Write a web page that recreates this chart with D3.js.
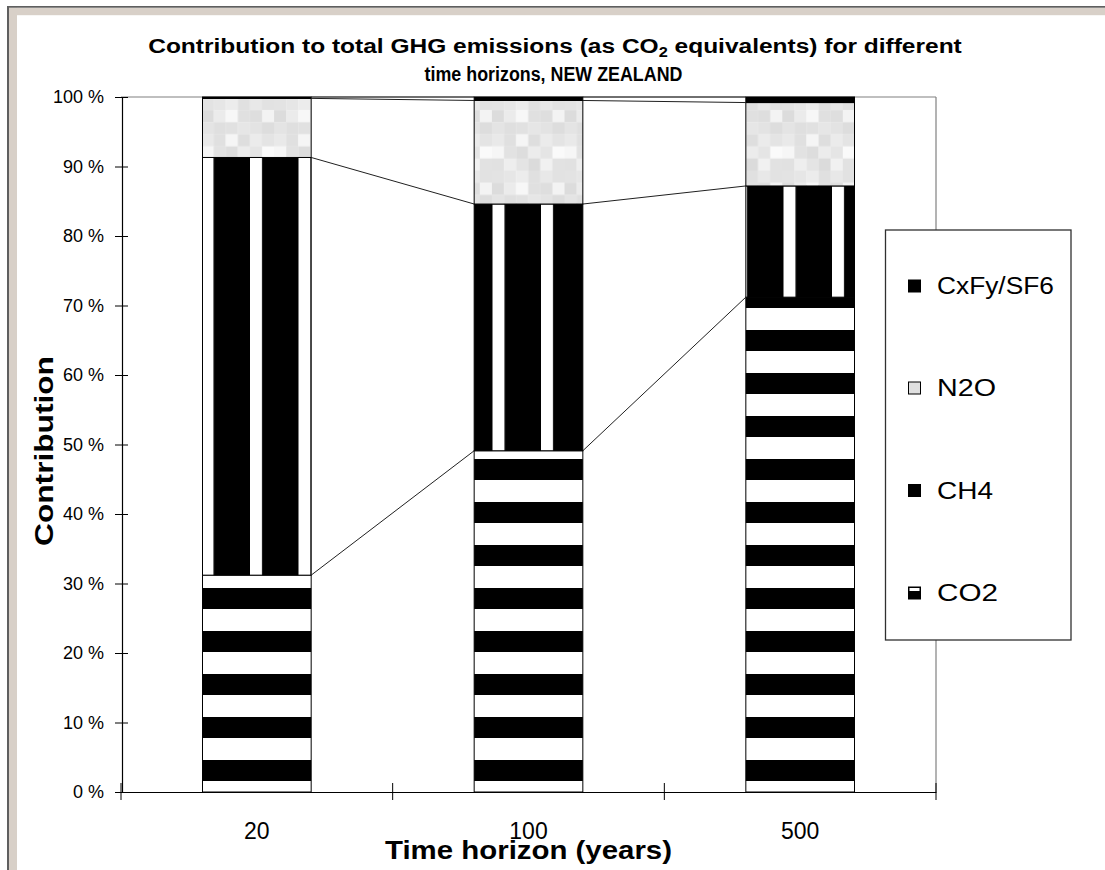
<!DOCTYPE html>
<html>
<head>
<meta charset="utf-8">
<script src="https://cdn.jsdelivr.net/npm/d3@7"></script>
<style>
  html, body { margin: 0; padding: 0; background: #ffffff; }
  svg { display: block; font-family: "Liberation Sans", Arial, sans-serif; }
</style>
</head>
<body>
<svg id="chart" width="1105" height="870"></svg>
<script>
// Share of total GHG emissions (CO2 equivalents), percent, per time horizon
const categories = ["20", "100", "500"];
const seriesKeys = ["CO2", "CH4", "N2O", "CxFy/SF6"];
const co2Values  = [31.2, 49.1, 71.2];
const ch4Values  = [60.1, 35.5, 16.0];
const n2oValues  = [8.5, 14.9, 12.0];
const cxfyValues = [0.2, 0.5, 0.8];
const yTickValues = [0, 10, 20, 30, 40, 50, 60, 70, 80, 90, 100];

const rows = categories.map((c, i) => ({
  horizon: c,
  "CO2": co2Values[i],
  "CH4": ch4Values[i],
  "N2O": n2oValues[i],
  "CxFy/SF6": cxfyValues[i]
}));

const svg = d3.select("#chart");
const plot = { left: 121, right: 936, top: 97, bottom: 792 };

// window frame (left and top edges)
svg.append("rect").attr("x", 9).attr("y", 7.7).attr("width", 1096).attr("height", 7.5).attr("fill", "#d8d0c8");
svg.append("rect").attr("x", 9).attr("y", 7.7).attr("width", 8).attr("height", 870).attr("fill", "#d8d0c8");
svg.append("rect").attr("x", 7).attr("y", 6).attr("width", 1098).attr("height", 1.7).attr("fill", "#5f5f5f");
svg.append("rect").attr("x", 7).attr("y", 6).attr("width", 2).attr("height", 864).attr("fill", "#5f5f5f");

const x = d3.scaleBand().domain(categories).range([plot.left, plot.right])
  .paddingInner(0.6).paddingOuter(0.3);
const y = d3.scaleLinear().domain([0, 100]).range([plot.bottom, plot.top]);

// fill patterns
const defs = svg.append("defs");
const pCO2 = defs.append("pattern").attr("id", "pat-co2")
  .attr("patternUnits", "userSpaceOnUse").attr("x", 0).attr("y", 760)
  .attr("width", 10).attr("height", 43);
pCO2.append("rect").attr("width", 10).attr("height", 43).attr("fill", "#ffffff");
pCO2.append("rect").attr("width", 10).attr("height", 21).attr("fill", "#000000");

const pCH4 = defs.append("pattern").attr("id", "pat-ch4")
  .attr("patternUnits", "userSpaceOnUse").attr("x", 250).attr("y", 0)
  .attr("width", 48.5).attr("height", 10);
pCH4.append("rect").attr("width", 48.5).attr("height", 10).attr("fill", "#000000");
pCH4.append("rect").attr("width", 12).attr("height", 10).attr("fill", "#ffffff");

const greyCells = [
  ["#e3e3e3", "#e6e6e6", "#ececec", "#e0e0e0", "#e8e8e8", "#e2e2e2"],
  ["#dcdcdc", "#ebebeb", "#f7f7f7", "#e0e0e0", "#dedede", "#f3f3f3"],
  ["#e4e4e4", "#dfdfdf", "#e1e1e1", "#e6e6e6", "#e3e3e3", "#dddddd"],
  ["#e9e9e9", "#e0e0e0", "#f5f5f5", "#dedede", "#ebebeb", "#e4e4e4"],
  ["#f6f6f6", "#e2e2e2", "#dddddd", "#ececec", "#e5e5e5", "#fafafa"],
  ["#e1e1e1", "#eeeeee", "#e4e4e4", "#dbdbdb", "#f1f1f1", "#e2e2e2"]
];
const cell = 12.1;
const pN2O = defs.append("pattern").attr("id", "pat-n2o")
  .attr("patternUnits", "userSpaceOnUse").attr("x", 201.5).attr("y", 98)
  .attr("width", cell * 6).attr("height", cell * 6);
greyCells.forEach((row, r) => row.forEach((c, k) => {
  pN2O.append("rect").attr("x", k * cell).attr("y", r * cell)
    .attr("width", cell + 0.2).attr("height", cell + 0.2).attr("fill", c);
}));

const fills = {
  "CO2": "url(#pat-co2)",
  "CH4": "url(#pat-ch4)",
  "N2O": "url(#pat-n2o)",
  "CxFy/SF6": "#000000"
};

// plot area border (top and right)
svg.append("line").attr("x1", plot.left).attr("x2", plot.right).attr("y1", plot.top).attr("y2", plot.top)
  .attr("stroke", "#808080").attr("stroke-width", 1.2);
svg.append("line").attr("x1", plot.right).attr("x2", plot.right).attr("y1", plot.top).attr("y2", plot.bottom)
  .attr("stroke", "#808080").attr("stroke-width", 1.2);

// stacked bars
const stacked = d3.stack().keys(seriesKeys)(rows);
const layers = svg.append("g").selectAll("g").data(stacked).join("g")
  .attr("fill", d => fills[d.key]);
layers.selectAll("rect").data(d => d).join("rect")
  .attr("x", d => x(d.data.horizon))
  .attr("width", x.bandwidth())
  .attr("y", d => y(d[1]))
  .attr("height", d => y(d[0]) - y(d[1]))
  .attr("stroke", "#000000").attr("stroke-width", 1);

// series lines joining the segment tops between neighbouring bars
const joins = svg.append("g").attr("fill", "none").attr("stroke", "#202020").attr("stroke-width", 1);
stacked.forEach(layer => {
  for (let i = 0; i < layer.length - 1; i++) {
    joins.append("line")
      .attr("x1", x(layer[i].data.horizon) + x.bandwidth())
      .attr("y1", y(layer[i][1]))
      .attr("x2", x(layer[i + 1].data.horizon))
      .attr("y2", y(layer[i + 1][1]));
  }
});

// y axis
const yAxis = svg.append("g").attr("transform", `translate(${plot.left + 1},0)`)
  .call(d3.axisLeft(y).tickValues(yTickValues).tickFormat(d => d + " %").tickSizeInner(7).tickSizeOuter(0).tickPadding(11));
yAxis.select(".domain").attr("stroke", "#000000").attr("stroke-width", 1.2);
yAxis.selectAll(".tick line").attr("x1", 6).attr("stroke", "#000000");
yAxis.selectAll(".tick text").attr("font-size", 18).attr("fill", "#000000")
  .attr("font-family", "Liberation Sans, Arial, sans-serif");

// x axis: labels at category centres, tick marks on category boundaries
const xAxis = svg.append("g").attr("transform", `translate(0,${plot.bottom})`)
  .call(d3.axisBottom(x).tickSize(0).tickPadding(31));
xAxis.select(".domain").attr("stroke", "#000000").attr("stroke-width", 1.2);
xAxis.selectAll(".tick text").attr("font-size", 23).attr("fill", "#000000")
  .attr("font-family", "Liberation Sans, Arial, sans-serif");
const boundaries = d3.range(categories.length + 1).map(i => plot.left + i * x.step());
xAxis.selectAll(".boundary").data(boundaries).join("line").attr("class", "boundary")
  .attr("x1", d => d).attr("x2", d => d).attr("y1", -9).attr("y2", 8)
  .attr("stroke", "#000000").attr("stroke-width", 1);

// text placed with its natural width stretched to a target width
function stretchedText(px, py, target, build, rot) {
  const g = svg.append("g");
  const t = g.append("text").attr("text-anchor", "middle");
  build(t);
  const w = t.node().getComputedTextLength();
  const k = target / w;
  g.attr("transform", `translate(${px},${py}) rotate(${rot || 0}) scale(${k},1)`);
  return t;
}

// title
stretchedText(555, 53, 814, t => {
  t.attr("font-size", 21).attr("font-weight", "bold");
  t.append("tspan").text("Contribution to total GHG emissions (as CO");
  t.append("tspan").attr("font-size", 14).attr("dy", 4).text("2");
  t.append("tspan").attr("dy", -4).text(" equivalents) for different");
});
stretchedText(553.5, 81, 258, t => {
  t.attr("font-size", 21).attr("font-weight", "bold").text("time horizons, NEW ZEALAND");
});

// axis titles
stretchedText(528.5, 859, 287, t => {
  t.attr("font-size", 26).attr("font-weight", "bold").text("Time horizon (years)");
});
stretchedText(53, 451, 190, t => {
  t.attr("font-size", 25).attr("font-weight", "bold").text("Contribution");
}, -90);

// legend
const legend = svg.append("g");
legend.append("rect").attr("x", 885.5).attr("y", 230).attr("width", 185.5).attr("height", 410)
  .attr("fill", "#ffffff").attr("stroke", "#303030").attr("stroke-width", 1.3);
const legendKeys = seriesKeys.slice().reverse();
const legendY = [286, 388, 490.5, 593];
const legendW = { "CxFy/SF6": 117, "N2O": 59, "CH4": 56, "CO2": 61 };
const swatchFill = { "CxFy/SF6": "#000000", "N2O": "#e0e0e0", "CH4": "#000000", "CO2": "#000000" };
legendKeys.forEach((key, i) => {
  const cy = legendY[i];
  legend.append("rect").attr("x", 908.5).attr("y", cy - 6).attr("width", 12).attr("height", 12)
    .attr("fill", swatchFill[key]).attr("stroke", "#000000").attr("stroke-width", 1);
  if (key === "CO2") {
    legend.append("rect").attr("x", 909.5).attr("y", cy - 5).attr("width", 10).attr("height", 3).attr("fill", "#ffffff");
  }
  const g = legend.append("g");
  const t = g.append("text").attr("font-size", 24).attr("dy", "0.35em").text(key);
  const k = legendW[key] / t.node().getComputedTextLength();
  g.attr("transform", `translate(937,${cy}) scale(${k},1)`);
});
</script>
</body>
</html>
